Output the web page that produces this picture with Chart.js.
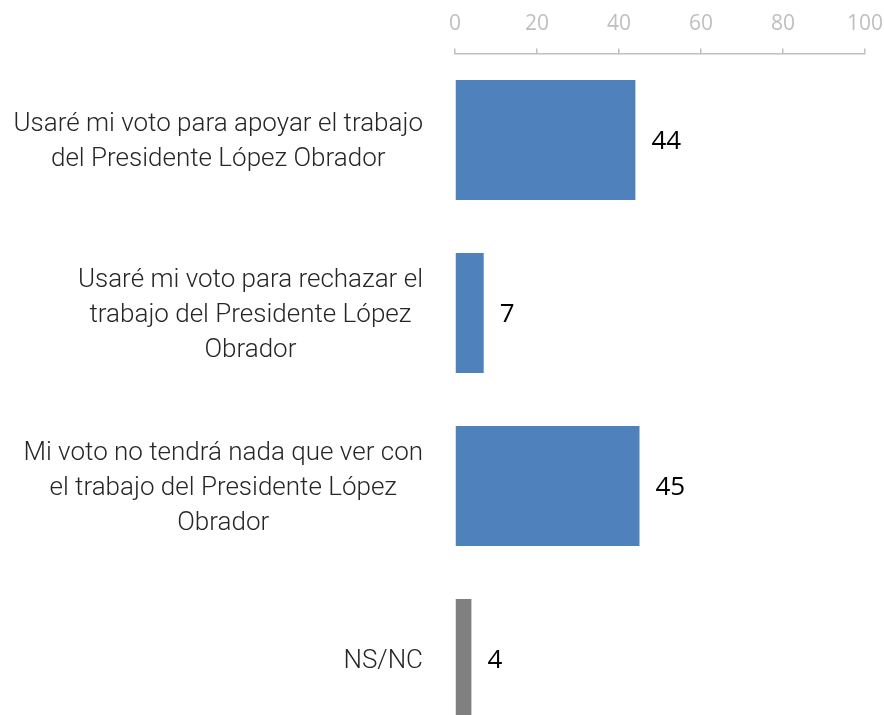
<!DOCTYPE html>
<html><head><meta charset="utf-8">
<script src="https://cdn.jsdelivr.net/npm/chart.js@4.4.0/dist/chart.umd.min.js"></script>
<style>html,body{margin:0;padding:0;background:#fff;overflow:hidden;}canvas{display:block;}</style>
</head><body>
<canvas id="c" width="884" height="760"></canvas>
<script>
const categories = [
  ['Usaré mi voto para apoyar el trabajo', 'del Presidente López Obrador'],
  ['Usaré mi voto para rechazar el', 'trabajo del Presidente López', 'Obrador'],
  ['Mi voto no tendrá nada que ver con', 'el trabajo del Presidente López', 'Obrador'],
  ['NS/NC']
];
const values = [44, 7, 45, 4];
const xTicks = [0, 20, 40, 60, 80, 100];
const barColors = ['#4F81BD', '#4F81BD', '#4F81BD', '#808080'];

const labelFont = '300 26px Roboto';
const labelLineH = 35;
const labelRight = 423;

const sideLabels = {
  id: 'sideLabels',
  afterDraw(chart) {
    const ctx = chart.ctx, y = chart.scales.y;
    ctx.save();
    ctx.font = labelFont;
    ctx.fillStyle = '#262626';
    ctx.textAlign = 'center';
    ctx.textBaseline = 'middle';
    categories.forEach((lines, i) => {
      const cy = y.getPixelForValue(i) + 2;
      const w = Math.max(...lines.map(l => ctx.measureText(l).width));
      const cx = labelRight - w / 2;
      const top = cy - (lines.length - 1) * labelLineH / 2;
      lines.forEach((l, j) => ctx.fillText(l, cx, top + j * labelLineH));
    });
    ctx.restore();
  }
};

const valueLabels = {
  id: 'valueLabels',
  afterDatasetsDraw(chart) {
    const ctx = chart.ctx, meta = chart.getDatasetMeta(0);
    ctx.save();
    ctx.font = '26px "Open Sans"';
    ctx.fillStyle = '#000';
    ctx.textAlign = 'left';
    ctx.textBaseline = 'middle';
    meta.data.forEach((bar, i) => {
      ctx.fillText(String(values[i]), bar.x + 16, bar.y + 2);
    });
    ctx.restore();
  }
};

new Chart(document.getElementById('c'), {
  type: 'bar',
  data: {
    labels: categories,
    datasets: [{
      data: values,
      backgroundColor: barColors,
      barPercentage: 0.694,
      categoryPercentage: 1
    }]
  },
  options: {
    indexAxis: 'y',
    responsive: false,
    animation: false,
    layout: { padding: { left: 455, right: 19, top: 11, bottom: 14.5 } },
    plugins: { legend: { display: false }, tooltip: { enabled: false } },
    scales: {
      x: {
        position: 'top',
        min: 0, max: 100,
        afterBuildTicks(s) { s.ticks = xTicks.map(v => ({ value: v })); },
        afterFit(s) { s.height = 42.5; s.paddingLeft = 0; s.paddingRight = 0; },
        ticks: { color: '#BFBFBF', font: { family: 'Open Sans', size: 21 }, padding: 12 },
        grid: { drawOnChartArea: false, tickLength: 5, color: '#BFBFBF', lineWidth: 1.5 },
        border: { color: '#BFBFBF', width: 1.5 }
      },
      y: {
        afterFit(s) { s.width = 0; s.paddingTop = 0; s.paddingBottom = 0; },
        ticks: { display: false },
        grid: { display: false },
        border: { display: false }
      }
    }
  },
  plugins: [sideLabels, valueLabels]
});
</script>
</body></html>
